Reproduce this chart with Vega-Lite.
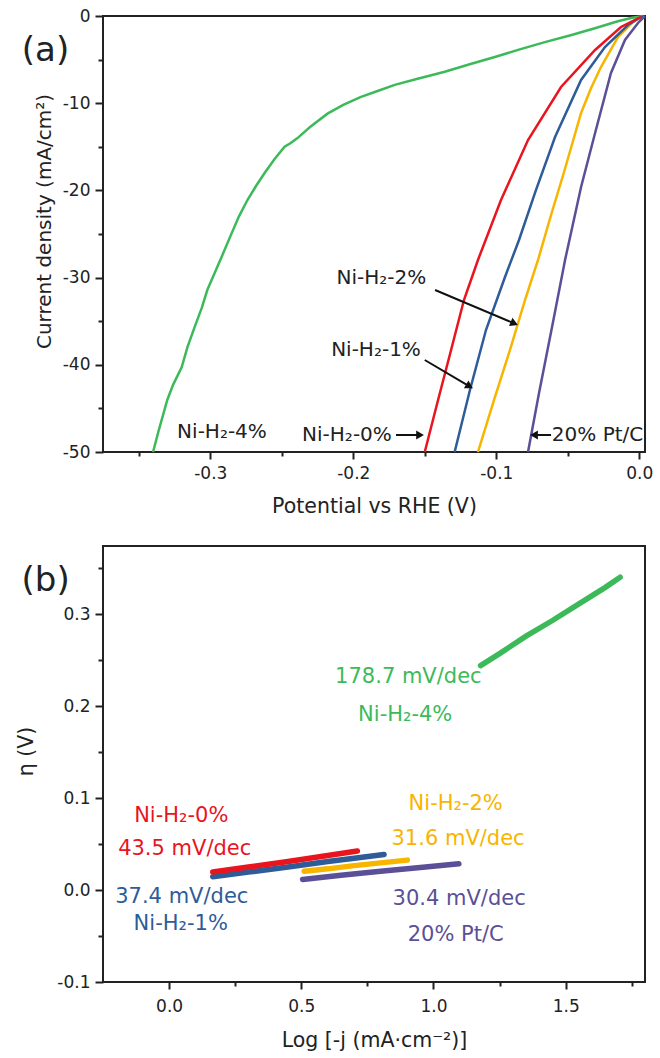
{
  "$schema": "https://vega.github.io/schema/vega-lite/v6.json",
  "padding": {"left": 15, "top": 6, "right": 5, "bottom": 5},
  "background": "white",
  "spacing": 94,
  "bounds": "flush",
  "config": {
    "font": "DejaVu Sans",
    "view": {"stroke": "#222", "strokeWidth": 2},
    "axis": {"grid": false, "domain": false, "tickColor": "#222", "tickWidth": 2, "labelColor": "#222", "titleColor": "#222", "labelFont": "DejaVu Sans", "titleFont": "DejaVu Sans", "labelFontSize": 17, "titleFontSize": 20.5, "titleFontWeight": "normal", "labelFlush": false, "labelOverlap": false, "labelPadding": 4},
    "text": {"font": "DejaVu Sans"}
  },
  "datasets": {
    "lsv": [
      {"s": "Ni-H2-4%", "V": -0.340, "J": -50.0}, {"s": "Ni-H2-4%", "V": -0.336, "J": -47.5}, {"s": "Ni-H2-4%", "V": -0.330, "J": -44.0}, {"s": "Ni-H2-4%", "V": -0.326, "J": -42.3}, {"s": "Ni-H2-4%", "V": -0.320, "J": -40.3}, {"s": "Ni-H2-4%", "V": -0.316, "J": -38.0}, {"s": "Ni-H2-4%", "V": -0.311, "J": -35.7}, {"s": "Ni-H2-4%", "V": -0.306, "J": -33.5}, {"s": "Ni-H2-4%", "V": -0.302, "J": -31.4}, {"s": "Ni-H2-4%", "V": -0.297, "J": -29.5}, {"s": "Ni-H2-4%", "V": -0.292, "J": -27.6}, {"s": "Ni-H2-4%", "V": -0.285, "J": -24.9}, {"s": "Ni-H2-4%", "V": -0.280, "J": -23.0}, {"s": "Ni-H2-4%", "V": -0.274, "J": -21.1}, {"s": "Ni-H2-4%", "V": -0.268, "J": -19.5}, {"s": "Ni-H2-4%", "V": -0.262, "J": -18.0}, {"s": "Ni-H2-4%", "V": -0.255, "J": -16.4}, {"s": "Ni-H2-4%", "V": -0.248, "J": -15.0}, {"s": "Ni-H2-4%", "V": -0.244, "J": -14.6}, {"s": "Ni-H2-4%", "V": -0.239, "J": -14.0}, {"s": "Ni-H2-4%", "V": -0.230, "J": -12.7}, {"s": "Ni-H2-4%", "V": -0.218, "J": -11.2}, {"s": "Ni-H2-4%", "V": -0.207, "J": -10.2}, {"s": "Ni-H2-4%", "V": -0.195, "J": -9.3}, {"s": "Ni-H2-4%", "V": -0.183, "J": -8.6}, {"s": "Ni-H2-4%", "V": -0.171, "J": -7.9}, {"s": "Ni-H2-4%", "V": -0.155, "J": -7.2}, {"s": "Ni-H2-4%", "V": -0.136, "J": -6.4}, {"s": "Ni-H2-4%", "V": -0.118, "J": -5.5}, {"s": "Ni-H2-4%", "V": -0.101, "J": -4.7}, {"s": "Ni-H2-4%", "V": -0.083, "J": -3.8}, {"s": "Ni-H2-4%", "V": -0.066, "J": -3.0}, {"s": "Ni-H2-4%", "V": -0.048, "J": -2.2}, {"s": "Ni-H2-4%", "V": -0.031, "J": -1.4}, {"s": "Ni-H2-4%", "V": -0.015, "J": -0.6}, {"s": "Ni-H2-4%", "V": -0.005, "J": -0.2}, {"s": "Ni-H2-4%", "V": 0.003, "J": 0.0},
      {"s": "20% Pt/C", "V": -0.0778, "J": -50.0}, {"s": "20% Pt/C", "V": -0.0701, "J": -43.23}, {"s": "20% Pt/C", "V": -0.0610, "J": -35.67}, {"s": "20% Pt/C", "V": -0.0519, "J": -27.98}, {"s": "20% Pt/C", "V": -0.0407, "J": -19.61}, {"s": "20% Pt/C", "V": -0.0309, "J": -13.42}, {"s": "20% Pt/C", "V": -0.0198, "J": -6.54}, {"s": "20% Pt/C", "V": -0.0100, "J": -2.75}, {"s": "20% Pt/C", "V": -0.0009, "J": -0.80}, {"s": "20% Pt/C", "V": 0.0040, "J": 0.0},
      {"s": "Ni-H2-2%", "V": -0.1128, "J": -50.0}, {"s": "Ni-H2-2%", "V": -0.1016, "J": -44.04}, {"s": "Ni-H2-2%", "V": -0.0904, "J": -38.30}, {"s": "Ni-H2-2%", "V": -0.0799, "J": -32.57}, {"s": "Ni-H2-2%", "V": -0.0708, "J": -27.98}, {"s": "Ni-H2-2%", "V": -0.0617, "J": -22.82}, {"s": "Ni-H2-2%", "V": -0.0526, "J": -17.89}, {"s": "Ni-H2-2%", "V": -0.0407, "J": -11.12}, {"s": "Ni-H2-2%", "V": -0.0337, "J": -8.26}, {"s": "Ni-H2-2%", "V": -0.0268, "J": -5.85}, {"s": "Ni-H2-2%", "V": -0.0149, "J": -2.41}, {"s": "Ni-H2-2%", "V": -0.0030, "J": -0.46}, {"s": "Ni-H2-2%", "V": 0.0026, "J": 0.0},
      {"s": "Ni-H2-1%", "V": -0.1291, "J": -50.0}, {"s": "Ni-H2-1%", "V": -0.1184, "J": -42.89}, {"s": "Ni-H2-1%", "V": -0.1072, "J": -36.01}, {"s": "Ni-H2-1%", "V": -0.0939, "J": -29.93}, {"s": "Ni-H2-1%", "V": -0.0841, "J": -25.69}, {"s": "Ni-H2-1%", "V": -0.0722, "J": -19.95}, {"s": "Ni-H2-1%", "V": -0.0589, "J": -13.88}, {"s": "Ni-H2-1%", "V": -0.0407, "J": -7.34}, {"s": "Ni-H2-1%", "V": -0.0240, "J": -3.56}, {"s": "Ni-H2-1%", "V": -0.0079, "J": -1.03}, {"s": "Ni-H2-1%", "V": 0.0026, "J": 0.0},
      {"s": "Ni-H2-0%", "V": -0.1500, "J": -50.0}, {"s": "Ni-H2-0%", "V": -0.1407, "J": -44.04}, {"s": "Ni-H2-0%", "V": -0.1316, "J": -38.30}, {"s": "Ni-H2-0%", "V": -0.1226, "J": -32.57}, {"s": "Ni-H2-0%", "V": -0.1128, "J": -27.98}, {"s": "Ni-H2-0%", "V": -0.0967, "J": -21.10}, {"s": "Ni-H2-0%", "V": -0.0778, "J": -14.22}, {"s": "Ni-H2-0%", "V": -0.0547, "J": -8.14}, {"s": "Ni-H2-0%", "V": -0.0309, "J": -3.90}, {"s": "Ni-H2-0%", "V": -0.0128, "J": -1.26}, {"s": "Ni-H2-0%", "V": 0.0012, "J": -0.11}
    ],
    "lsvText": [
      {"t": "Ni-H₂-4%", "V": -0.2918, "J": -47.67},
      {"t": "Ni-H₂-0%", "V": -0.2044, "J": -48.05},
      {"t": "20% Pt/C", "V": -0.0292, "J": -48.05},
      {"t": "Ni-H₂-2%", "V": -0.1804, "J": -30.08},
      {"t": "Ni-H₂-1%", "V": -0.1841, "J": -38.30}
    ],
    "arrows": [
      {"a": "a0", "V": -0.1701, "J": -48.05, "V2": -0.1533, "J2": -48.05},
      {"a": "aP", "V": -0.0617, "J": -48.05, "V2": -0.0736, "J2": -48.05},
      {"a": "a2", "V": -0.1428, "J": -31.42, "V2": -0.0874, "J2": -35.25},
      {"a": "a1", "V": -0.1500, "J": -39.45, "V2": -0.1187, "J2": -42.47}
    ],
    "tagA": [{"t": "(a)", "V": -0.4152, "J": -4.01}],
    "tafel": [
      {"s": "Ni-H2-4%", "L": 1.178, "eta": 0.244}, {"s": "Ni-H2-4%", "L": 1.25, "eta": 0.257}, {"s": "Ni-H2-4%", "L": 1.35, "eta": 0.276}, {"s": "Ni-H2-4%", "L": 1.45, "eta": 0.293}, {"s": "Ni-H2-4%", "L": 1.55, "eta": 0.311}, {"s": "Ni-H2-4%", "L": 1.65, "eta": 0.329}, {"s": "Ni-H2-4%", "L": 1.706, "eta": 0.340},
      {"s": "20% Pt/C", "L": 0.505, "eta": 0.0115}, {"s": "20% Pt/C", "L": 0.65, "eta": 0.016}, {"s": "20% Pt/C", "L": 0.8, "eta": 0.0205}, {"s": "20% Pt/C", "L": 0.95, "eta": 0.0245}, {"s": "20% Pt/C", "L": 1.096, "eta": 0.0285},
      {"s": "Ni-H2-2%", "L": 0.511, "eta": 0.0205}, {"s": "Ni-H2-2%", "L": 0.6, "eta": 0.023}, {"s": "Ni-H2-2%", "L": 0.7, "eta": 0.0265}, {"s": "Ni-H2-2%", "L": 0.8, "eta": 0.0295}, {"s": "Ni-H2-2%", "L": 0.901, "eta": 0.0325},
      {"s": "Ni-H2-1%", "L": 0.165, "eta": 0.0145}, {"s": "Ni-H2-1%", "L": 0.3, "eta": 0.0195}, {"s": "Ni-H2-1%", "L": 0.45, "eta": 0.025}, {"s": "Ni-H2-1%", "L": 0.6, "eta": 0.031}, {"s": "Ni-H2-1%", "L": 0.7, "eta": 0.0345}, {"s": "Ni-H2-1%", "L": 0.813, "eta": 0.0387},
      {"s": "Ni-H2-0%", "L": 0.165, "eta": 0.0195}, {"s": "Ni-H2-0%", "L": 0.3, "eta": 0.025}, {"s": "Ni-H2-0%", "L": 0.45, "eta": 0.031}, {"s": "Ni-H2-0%", "L": 0.6, "eta": 0.0375}, {"s": "Ni-H2-0%", "L": 0.712, "eta": 0.0425}
    ],
    "tafelText": [
      {"t": "178.7 mV/dec", "s": "Ni-H2-4%", "L": 0.905, "eta": 0.232},
      {"t": "Ni-H₂-4%", "s": "Ni-H2-4%", "L": 0.893, "eta": 0.190},
      {"t": "Ni-H₂-0%", "s": "Ni-H2-0%", "L": 0.046, "eta": 0.081},
      {"t": "43.5 mV/dec", "s": "Ni-H2-0%", "L": 0.059, "eta": 0.045},
      {"t": "37.4 mV/dec", "s": "Ni-H2-1%", "L": 0.048, "eta": -0.0075},
      {"t": "Ni-H₂-1%", "s": "Ni-H2-1%", "L": 0.044, "eta": -0.0365},
      {"t": "Ni-H₂-2%", "s": "Ni-H2-2%", "L": 1.084, "eta": 0.094},
      {"t": "31.6 mV/dec", "s": "Ni-H2-2%", "L": 1.093, "eta": 0.056},
      {"t": "30.4 mV/dec", "s": "20% Pt/C", "L": 1.097, "eta": -0.0093},
      {"t": "20% Pt/C", "s": "20% Pt/C", "L": 1.084, "eta": -0.049}
    ],
    "tagB": [{"t": "(b)", "L": -0.467, "eta": 0.336}]
  },
  "vconcat": [
    {
      "width": 542,
      "height": 436,
      "resolve": {"axis": {"x": "independent", "y": "independent"}},
      "layer": [
        {
          "data": {"name": "lsv"},
          "mark": {"type": "line", "strokeWidth": 2.5},
          "encoding": {
            "x": {"field": "V", "type": "quantitative", "scale": {"domain": [-0.375, 0.004], "nice": false, "zero": false},
              "axis": {"orient": "bottom", "title": "Potential vs RHE (V)", "values": [-0.3, -0.2, -0.1, 0], "format": ".1f", "labelExpr": "replace(datum.label, '−', '-')", "tickSize": 7, "labelPadding": 6, "titlePadding": 15}},
            "y": {"field": "J", "type": "quantitative", "scale": {"domain": [-50, 0], "nice": false, "zero": false},
              "axis": {"orient": "left", "title": "Current density (mA/cm²)", "titleFontSize": 20, "values": [0, -10, -20, -30, -40, -50], "format": "d", "labelExpr": "replace(datum.label, '−', '-')", "tickSize": 8, "labelPadding": 5, "titlePadding": 8, "titleY": 205}},
            "color": {"field": "s", "type": "nominal", "legend": null,
              "scale": {"domain": ["Ni-H2-0%", "Ni-H2-1%", "Ni-H2-2%", "Ni-H2-4%", "20% Pt/C"], "range": ["#E8141E", "#2E5C99", "#F7B500", "#3CBA5A", "#5B4F98"]}}
          }
        },
        {
          "data": {"name": "lsvText"},
          "mark": {"type": "text", "fontSize": 20, "color": "#222", "align": "center", "baseline": "middle"},
          "encoding": {
            "x": {"field": "V", "type": "quantitative", "scale": {"domain": [-0.375, 0.004], "nice": false, "zero": false},
              "axis": {"orient": "bottom", "title": null, "labels": false, "values": [-0.35, -0.25, -0.15, -0.05], "tickSize": 4}},
            "y": {"field": "J", "type": "quantitative", "scale": {"domain": [-50, 0], "nice": false, "zero": false},
              "axis": {"orient": "left", "title": null, "labels": false, "values": [-5, -15, -25, -35, -45], "tickSize": 5}},
            "text": {"field": "t"}
          }
        },
        {
          "data": {"name": "arrows"},
          "mark": {"type": "rule", "strokeWidth": 2, "color": "#111"},
          "encoding": {
            "x": {"field": "V", "type": "quantitative", "axis": null, "scale": {"domain": [-0.375, 0.004], "nice": false, "zero": false}},
            "y": {"field": "J", "type": "quantitative", "axis": null, "scale": {"domain": [-50, 0], "nice": false, "zero": false}},
            "x2": {"field": "V2"},
            "y2": {"field": "J2"}
          }
        },
        {
          "data": {"name": "arrows"},
          "transform": [{"filter": "datum.a == 'a0'"}],
          "mark": {"type": "point", "shape": "triangle-right", "filled": true, "color": "#111", "size": 80, "opacity": 1, "angle": 0},
          "encoding": {
            "x": {"field": "V2", "type": "quantitative", "axis": null, "scale": {"domain": [-0.375, 0.004], "nice": false, "zero": false}},
            "y": {"field": "J2", "type": "quantitative", "axis": null, "scale": {"domain": [-50, 0], "nice": false, "zero": false}}
          }
        },
        {
          "data": {"name": "arrows"},
          "transform": [{"filter": "datum.a == 'aP'"}],
          "mark": {"type": "point", "shape": "triangle-left", "filled": true, "color": "#111", "size": 80, "opacity": 1, "angle": 0},
          "encoding": {
            "x": {"field": "V2", "type": "quantitative", "axis": null, "scale": {"domain": [-0.375, 0.004], "nice": false, "zero": false}},
            "y": {"field": "J2", "type": "quantitative", "axis": null, "scale": {"domain": [-50, 0], "nice": false, "zero": false}}
          }
        },
        {
          "data": {"name": "arrows"},
          "transform": [{"filter": "datum.a == 'a2'"}],
          "mark": {"type": "point", "shape": "triangle-right", "filled": true, "color": "#111", "size": 80, "opacity": 1, "angle": 23},
          "encoding": {
            "x": {"field": "V2", "type": "quantitative", "axis": null, "scale": {"domain": [-0.375, 0.004], "nice": false, "zero": false}},
            "y": {"field": "J2", "type": "quantitative", "axis": null, "scale": {"domain": [-50, 0], "nice": false, "zero": false}}
          }
        },
        {
          "data": {"name": "arrows"},
          "transform": [{"filter": "datum.a == 'a1'"}],
          "mark": {"type": "point", "shape": "triangle-right", "filled": true, "color": "#111", "size": 80, "opacity": 1, "angle": 30},
          "encoding": {
            "x": {"field": "V2", "type": "quantitative", "axis": null, "scale": {"domain": [-0.375, 0.004], "nice": false, "zero": false}},
            "y": {"field": "J2", "type": "quantitative", "axis": null, "scale": {"domain": [-50, 0], "nice": false, "zero": false}}
          }
        },
        {
          "data": {"name": "tagA"},
          "mark": {"type": "text", "fontSize": 34, "color": "#222", "align": "center", "baseline": "middle"},
          "encoding": {
            "x": {"field": "V", "type": "quantitative", "axis": null, "scale": {"domain": [-0.375, 0.004], "nice": false, "zero": false}},
            "y": {"field": "J", "type": "quantitative", "axis": null, "scale": {"domain": [-50, 0], "nice": false, "zero": false}},
            "text": {"field": "t"}
          }
        }
      ]
    },
    {
      "width": 542,
      "height": 436,
      "resolve": {"axis": {"x": "independent", "y": "independent"}},
      "layer": [
        {
          "data": {"name": "tafel"},
          "mark": {"type": "line", "strokeWidth": 5.5, "strokeCap": "round"},
          "encoding": {
            "x": {"field": "L", "type": "quantitative", "scale": {"domain": [-0.25, 1.8], "nice": false, "zero": false},
              "axis": {"orient": "bottom", "title": "Log [-j (mA·cm⁻²)]", "values": [0, 0.5, 1, 1.5], "format": ".1f", "labelExpr": "replace(datum.label, '−', '-')", "tickSize": 7, "labelPadding": 9, "titlePadding": 16}},
            "y": {"field": "eta", "type": "quantitative", "scale": {"domain": [-0.1, 0.374], "nice": false, "zero": false},
              "axis": {"orient": "left", "title": "η (V)", "values": [-0.1, 0, 0.1, 0.2, 0.3], "format": ".1f", "labelExpr": "replace(datum.label, '−', '-')", "tickSize": 8, "labelPadding": 5, "titlePadding": 20, "titleY": 205}},
            "color": {"field": "s", "type": "nominal", "legend": null,
              "scale": {"domain": ["Ni-H2-0%", "Ni-H2-1%", "Ni-H2-2%", "Ni-H2-4%", "20% Pt/C"], "range": ["#E8141E", "#2E5C99", "#F7B500", "#3CBA5A", "#5B4F98"]}}
          }
        },
        {
          "data": {"name": "tafelText"},
          "mark": {"type": "text", "fontSize": 21, "align": "center", "baseline": "middle"},
          "encoding": {
            "x": {"field": "L", "type": "quantitative", "scale": {"domain": [-0.25, 1.8], "nice": false, "zero": false},
              "axis": {"orient": "bottom", "title": null, "labels": false, "values": [0.25, 0.75, 1.25, 1.75], "tickSize": 4}},
            "y": {"field": "eta", "type": "quantitative", "scale": {"domain": [-0.1, 0.374], "nice": false, "zero": false},
              "axis": {"orient": "left", "title": null, "labels": false, "values": [-0.05, 0.05, 0.15, 0.25, 0.35], "tickSize": 5}},
            "text": {"field": "t"},
            "color": {"field": "s", "type": "nominal", "legend": null,
              "scale": {"domain": ["Ni-H2-0%", "Ni-H2-1%", "Ni-H2-2%", "Ni-H2-4%", "20% Pt/C"], "range": ["#E8141E", "#2E5C99", "#F7B500", "#3CBA5A", "#5B4F98"]}}
          }
        },
        {
          "data": {"name": "tagB"},
          "mark": {"type": "text", "fontSize": 34, "color": "#222", "align": "center", "baseline": "middle"},
          "encoding": {
            "x": {"field": "L", "type": "quantitative", "axis": null, "scale": {"domain": [-0.25, 1.8], "nice": false, "zero": false}},
            "y": {"field": "eta", "type": "quantitative", "axis": null, "scale": {"domain": [-0.1, 0.374], "nice": false, "zero": false}},
            "text": {"field": "t"}
          }
        }
      ]
    }
  ]
}
